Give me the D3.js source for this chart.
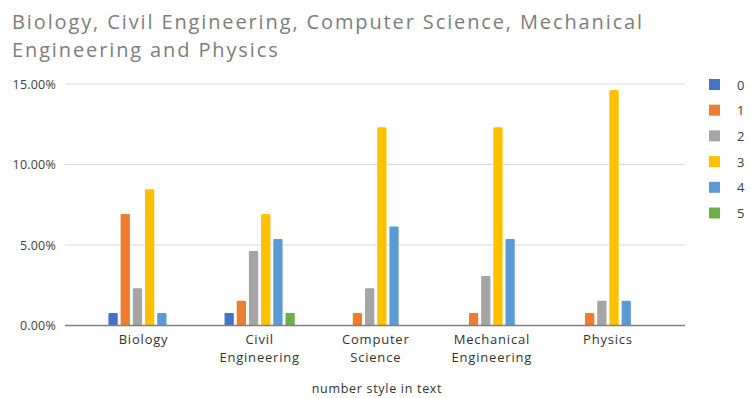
<!DOCTYPE html>
<html>
<head>
<meta charset="utf-8">
<script src="https://cdn.jsdelivr.net/npm/d3@7"></script>
<style>
  html, body { margin: 0; padding: 0; background: #ffffff; }
  svg { display: block; }
  text { font-family: "Open Sans", "DejaVu Sans", sans-serif; }
</style>
</head>
<body>
<svg id="chart" width="750" height="398"></svg>
<script>
// Fields of study along the x axis
const categories = ["Biology", "Civil Engineering", "Computer Science", "Mechanical Engineering", "Physics"];
// Series names (number style in text) and their colours
const seriesNames = ["0", "1", "2", "3", "4", "5"];
const seriesColors = ["#4472C4", "#ED7D31", "#A5A5A5", "#FFC000", "#5B9BD5", "#70AD47"];
// Share per series, one value for each category (fractions)
const s0 = [0.0077, 0.0077, 0, 0, 0];
const s1 = [0.0692, 0.0154, 0.0077, 0.0077, 0.0077];
const s2 = [0.0231, 0.0462, 0.0231, 0.0308, 0.0154];
const s3 = [0.0846, 0.0692, 0.1231, 0.1231, 0.1462];
const s4 = [0.0077, 0.0538, 0.0615, 0.0538, 0.0154];
const s5 = [0, 0.0077, 0, 0, 0];
const seriesValues = [s0, s1, s2, s3, s4, s5];
// Y axis ticks
const yTicks = [0, 0.05, 0.10, 0.15];
const titleLines = ["Biology, Civil Engineering, Computer Science, Mechanical", "Engineering and Physics"];
const xAxisTitle = "number style in text";

const svg = d3.select("#chart");

// Scales
const y = d3.scaleLinear().domain([0, 0.15]).range([325.5, 84]);
const x0 = d3.scaleBand().domain(categories).range([85.5, 666])
  .paddingInner(0.37).paddingOuter(0.185);
const x1 = d3.scaleBand().domain(seriesNames).range([0, x0.bandwidth()])
  .paddingInner(0.24).paddingOuter(0.12);
const color = d3.scaleOrdinal().domain(seriesNames).range(seriesColors);
const gridX = [65, 685];

// Title: two lines, first line spread to its full span
const title = svg.append("g").attr("fill", "#7d7d7d").attr("font-size", 20);
titleLines.forEach((t, i) => {
  title.append("text").attr("x", 12).attr("y", 29 + i * 28).text(t);
});
const first = title.select("text").node();
const w = first.getComputedTextLength();
const ls = (632 - w) / titleLines[0].length;
title.attr("letter-spacing", Math.max(0, ls));

// Gridlines
svg.append("g").selectAll("line").data(yTicks.filter(d => d > 0)).join("line")
  .attr("x1", gridX[0]).attr("x2", gridX[1])
  .attr("y1", d => y(d)).attr("y2", d => y(d))
  .attr("stroke", "#d9d9d9").attr("stroke-width", 1);

// Y axis labels
const yAxis = d3.axisLeft(y).tickValues(yTicks).tickFormat(d3.format(".2%")).tickSize(0).tickPadding(9);
const yg = svg.append("g").attr("transform", `translate(${gridX[0]},0)`).call(yAxis);
yg.select(".domain").remove();
yg.selectAll("text").attr("font-size", 12.5).attr("fill", "#404040")
  .attr("font-family", "\"Open Sans\", sans-serif").attr("letter-spacing", 0.2);

// Bars
const groups = svg.append("g").selectAll("g").data(categories).join("g")
  .attr("transform", d => `translate(${x0(d)},0)`);
groups.selectAll("rect")
  .data((c, ci) => seriesNames.map((s, si) => ({ s, v: seriesValues[si][ci] })).filter(d => d.v > 0))
  .join("rect")
  .attr("x", d => x1(d.s))
  .attr("width", x1.bandwidth())
  .attr("y", d => y(d.v))
  .attr("height", d => y(0) - y(d.v))
  .attr("rx", 1.2)
  .attr("fill", d => color(d.s));

// Baseline
svg.append("line").attr("x1", gridX[0]).attr("x2", gridX[1])
  .attr("y1", y(0)).attr("y2", y(0))
  .attr("stroke", "#7f7f7f").attr("stroke-width", 1.5);

// X axis labels (wrapped onto two lines where needed)
const xl = svg.append("g").attr("font-size", 13).attr("fill", "#333333").attr("text-anchor", "middle");
categories.forEach(c => {
  const words = c.split(" ");
  words.forEach((wd, i) => {
    xl.append("text").attr("x", x0(c) + x0.bandwidth() / 2).attr("y", 344 + i * 18)
      .attr("letter-spacing", 0.8).text(wd);
  });
});

// X axis title
svg.append("text").attr("x", 377).attr("y", 393).attr("text-anchor", "middle")
  .attr("font-size", 12.5).attr("fill", "#333333").attr("letter-spacing", 0.7).text(xAxisTitle);

// Legend
const legend = svg.append("g").selectAll("g").data(seriesNames).join("g")
  .attr("transform", (d, i) => `translate(709,${79 + i * 25.7})`);
legend.append("rect").attr("width", 11).attr("height", 11).attr("fill", d => color(d));
legend.append("text").attr("x", 28).attr("y", 10.5).attr("font-size", 13).attr("fill", "#404040").text(d => d);
</script>
</body>
</html>
